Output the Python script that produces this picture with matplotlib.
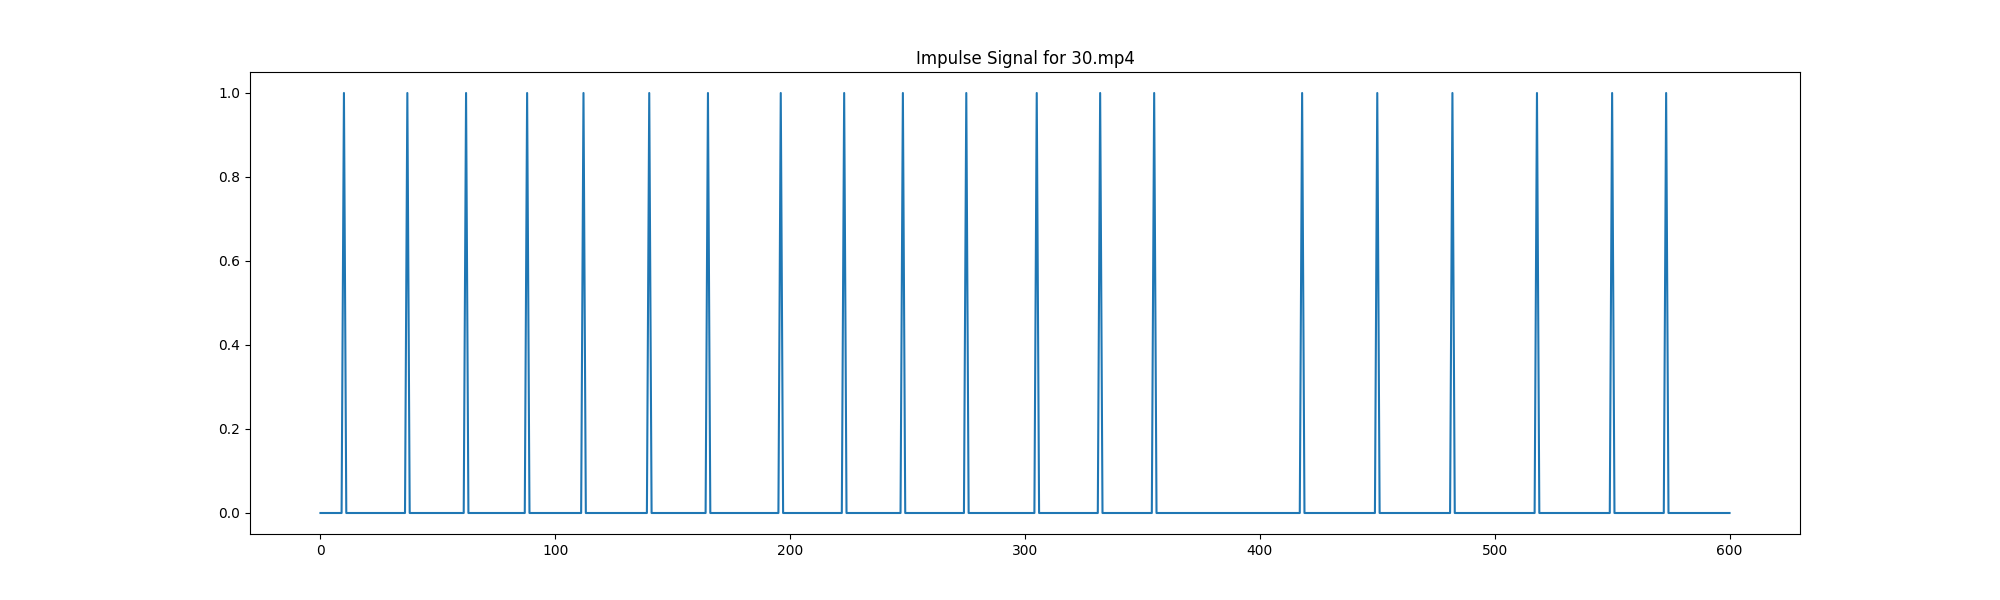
import numpy as np
import matplotlib
matplotlib.use("Agg")
import matplotlib.pyplot as plt

# frame indices where an impulse happens
n_frames = 601
peak_frames = [10, 37, 62, 88, 112, 140, 165, 196, 223, 248, 275, 305, 332, 355,
               418, 450, 482, 518, 550, 573]

signal = np.zeros(n_frames)
signal[peak_frames] = 1

plt.figure(figsize=(20, 6))
plt.plot(signal)
plt.title("Impulse Signal for 30.mp4")
plt.savefig("out.png", dpi=100)
